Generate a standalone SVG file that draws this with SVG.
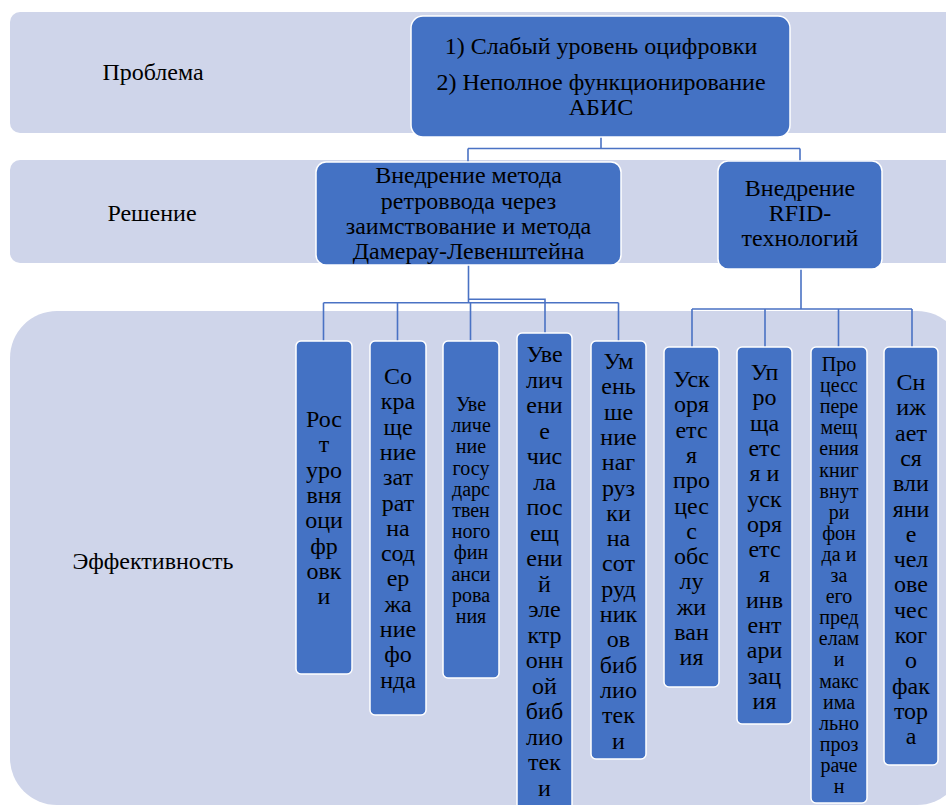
<svg xmlns="http://www.w3.org/2000/svg" width="946" height="805" viewBox="0 0 946 805">
<style>
.band{fill:#CFD5EA}
.box{fill:#4472C4;stroke:#FFFFFF;stroke-width:1.5}
.t{font-family:'Liberation Serif','Times New Roman',serif;fill:#000;text-anchor:middle}
.lg{font-size:24px}
.sm{font-size:20px}
.lbl{font-family:'Liberation Serif','Times New Roman',serif;font-size:24px;fill:#000;text-anchor:middle}
.conn{fill:none;stroke:#4A72C4;stroke-width:1.6}
</style>
<rect width="946" height="805" fill="#FFFFFF"/>
<g id="bands">
<rect class="band" x="10" y="12" width="960" height="121" rx="10"/>
<rect class="band" x="10" y="160" width="960" height="103" rx="10"/>
<rect class="band" x="10" y="311" width="954" height="494" rx="47"/>
</g>
<g id="labels">
<text class="lbl" x="153" y="80">Проблема</text>
<text class="lbl" x="152" y="221">Решение</text>
<text class="lbl" x="153" y="569">Эффективность</text>
</g>
<g id="connectors">
<path class="conn" d="M601,137 V148.5 M468,148.5 H800 M468,148.5 V162 M800,148.5 V161"/>
<path class="conn" d="M468.5,265 V302.7 M323.5,302.7 H618.5 M323.5,302.7 V341 M397.5,302.7 V341 M470.5,302.7 V341 M618.5,302.7 V341 M469,299.3 H545 V333"/>
<path class="conn" d="M801,269 V309 M692,309 H912 M692,309 V347 M765,309 V347 M838.5,309 V347 M912,309 V347"/>
</g>
<g id="problem">
<rect class="box" x="411" y="16" width="379" height="121" rx="12"/>
<text class="t lg"><tspan x="601" y="54">1) Слабый уровень оцифровки</tspan><tspan x="601" y="90">2) Неполное функционирование</tspan><tspan x="601" y="115">АБИС</tspan></text>
</g>
<g id="solution1">
<rect class="box" x="316" y="162" width="305" height="103" rx="10"/>
<text class="t lg"><tspan x="468.5" y="183">Внедрение метода</tspan><tspan x="468.5" y="208.5">ретроввода через</tspan><tspan x="468.5" y="234">заимствование и метода</tspan><tspan x="468.5" y="259">Дамерау-Левенштейна</tspan></text>
</g>
<g id="solution2">
<rect class="box" x="718" y="161" width="164" height="108" rx="10"/>
<text class="t lg"><tspan x="800" y="196">Внедрение</tspan><tspan x="800" y="221">RFID-</tspan><tspan x="800" y="246">технологий</tspan></text>
</g>
<g id="effect1">
<rect class="box" x="296" y="341" width="56" height="333" rx="5"/>
<text class="t lg"><tspan x="324" y="427">Рос</tspan><tspan x="324" dy="25.3">т</tspan><tspan x="324" dy="25.3">уро</tspan><tspan x="324" dy="25.3">вня</tspan><tspan x="324" dy="25.3">оци</tspan><tspan x="324" dy="25.3">фр</tspan><tspan x="324" dy="25.3">овк</tspan><tspan x="324" dy="25.3">и</tspan></text>
</g>
<g id="effect2">
<rect class="box" x="370" y="341" width="56" height="374" rx="5"/>
<text class="t lg"><tspan x="398" y="384">Со</tspan><tspan x="398" dy="25.3">кра</tspan><tspan x="398" dy="25.3">ще</tspan><tspan x="398" dy="25.3">ние</tspan><tspan x="398" dy="25.3">зат</tspan><tspan x="398" dy="25.3">рат</tspan><tspan x="398" dy="25.3">на</tspan><tspan x="398" dy="25.3">сод</tspan><tspan x="398" dy="25.3">ер</tspan><tspan x="398" dy="25.3">жа</tspan><tspan x="398" dy="25.3">ние</tspan><tspan x="398" dy="25.3">фо</tspan><tspan x="398" dy="25.3">нда</tspan></text>
</g>
<g id="effect3">
<rect class="box" x="443" y="341" width="56" height="337" rx="5"/>
<text class="t sm"><tspan x="471" y="411">Уве</tspan><tspan x="471" dy="21.2">личе</tspan><tspan x="471" dy="21.2">ние</tspan><tspan x="471" dy="21.2">госу</tspan><tspan x="471" dy="21.2">дарс</tspan><tspan x="471" dy="21.2">твен</tspan><tspan x="471" dy="21.2">ного</tspan><tspan x="471" dy="21.2">фин</tspan><tspan x="471" dy="21.2">анси</tspan><tspan x="471" dy="21.2">рова</tspan><tspan x="471" dy="21.2">ния</tspan></text>
</g>
<g id="effect4">
<rect class="box" x="517" y="333" width="55" height="480" rx="5"/>
<text class="t lg"><tspan x="544.5" y="362">Уве</tspan><tspan x="544.5" dy="25.5">лич</tspan><tspan x="544.5" dy="25.5">ени</tspan><tspan x="544.5" dy="25.5">е</tspan><tspan x="544.5" dy="25.5">чис</tspan><tspan x="544.5" dy="25.5">ла</tspan><tspan x="544.5" dy="25.5">пос</tspan><tspan x="544.5" dy="25.5">ещ</tspan><tspan x="544.5" dy="25.5">ени</tspan><tspan x="544.5" dy="25.5">й</tspan><tspan x="544.5" dy="25.5">эле</tspan><tspan x="544.5" dy="25.5">ктр</tspan><tspan x="544.5" dy="25.5">онн</tspan><tspan x="544.5" dy="25.5">ой</tspan><tspan x="544.5" dy="25.5">биб</tspan><tspan x="544.5" dy="25.5">лио</tspan><tspan x="544.5" dy="25.5">тек</tspan><tspan x="544.5" dy="25.5">и</tspan></text>
</g>
<g id="effect5">
<rect class="box" x="591" y="341" width="55" height="418" rx="5"/>
<text class="t lg"><tspan x="618.5" y="369">Ум</tspan><tspan x="618.5" dy="25.3">ень</tspan><tspan x="618.5" dy="25.3">ше</tspan><tspan x="618.5" dy="25.3">ние</tspan><tspan x="618.5" dy="25.3">наг</tspan><tspan x="618.5" dy="25.3">руз</tspan><tspan x="618.5" dy="25.3">ки</tspan><tspan x="618.5" dy="25.3">на</tspan><tspan x="618.5" dy="25.3">сот</tspan><tspan x="618.5" dy="25.3">руд</tspan><tspan x="618.5" dy="25.3">ник</tspan><tspan x="618.5" dy="25.3">ов</tspan><tspan x="618.5" dy="25.3">биб</tspan><tspan x="618.5" dy="25.3">лио</tspan><tspan x="618.5" dy="25.3">тек</tspan><tspan x="618.5" dy="25.3">и</tspan></text>
</g>
<g id="effect6">
<rect class="box" x="664" y="347" width="55" height="340" rx="5"/>
<text class="t lg"><tspan x="691.5" y="387">Уск</tspan><tspan x="691.5" dy="25.3">оря</tspan><tspan x="691.5" dy="25.3">етс</tspan><tspan x="691.5" dy="25.3">я</tspan><tspan x="691.5" dy="25.3">про</tspan><tspan x="691.5" dy="25.3">цес</tspan><tspan x="691.5" dy="25.3">с</tspan><tspan x="691.5" dy="25.3">обс</tspan><tspan x="691.5" dy="25.3">лу</tspan><tspan x="691.5" dy="25.3">жи</tspan><tspan x="691.5" dy="25.3">ван</tspan><tspan x="691.5" dy="25.3">ия</tspan></text>
</g>
<g id="effect7">
<rect class="box" x="737" y="347" width="55" height="377" rx="5"/>
<text class="t lg"><tspan x="764.5" y="380">Уп</tspan><tspan x="764.5" dy="25.3">ро</tspan><tspan x="764.5" dy="25.3">ща</tspan><tspan x="764.5" dy="25.3">етс</tspan><tspan x="764.5" dy="25.3">я и</tspan><tspan x="764.5" dy="25.3">уск</tspan><tspan x="764.5" dy="25.3">оря</tspan><tspan x="764.5" dy="25.3">етс</tspan><tspan x="764.5" dy="25.3">я</tspan><tspan x="764.5" dy="25.3">инв</tspan><tspan x="764.5" dy="25.3">ент</tspan><tspan x="764.5" dy="25.3">ари</tspan><tspan x="764.5" dy="25.3">зац</tspan><tspan x="764.5" dy="25.3">ия</tspan></text>
</g>
<g id="effect8">
<rect class="box" x="811" y="347" width="56" height="456" rx="5"/>
<text class="t sm"><tspan x="839" y="371">Про</tspan><tspan x="839" dy="21.1">цесс</tspan><tspan x="839" dy="21.1">пере</tspan><tspan x="839" dy="21.1">мещ</tspan><tspan x="839" dy="21.1">ения</tspan><tspan x="839" dy="21.1">книг</tspan><tspan x="839" dy="21.1">внут</tspan><tspan x="839" dy="21.1">ри</tspan><tspan x="839" dy="21.1">фон</tspan><tspan x="839" dy="21.1">да и</tspan><tspan x="839" dy="21.1">за</tspan><tspan x="839" dy="21.1">его</tspan><tspan x="839" dy="21.1">пред</tspan><tspan x="839" dy="21.1">елам</tspan><tspan x="839" dy="21.1">и</tspan><tspan x="839" dy="21.1">макс</tspan><tspan x="839" dy="21.1">има</tspan><tspan x="839" dy="21.1">льно</tspan><tspan x="839" dy="21.1">проз</tspan><tspan x="839" dy="21.1">раче</tspan><tspan x="839" dy="21.1">н</tspan></text>
</g>
<g id="effect9">
<rect class="box" x="884" y="347" width="54" height="418" rx="5"/>
<text class="t lg"><tspan x="911" y="390">Сн</tspan><tspan x="911" dy="25.3">иж</tspan><tspan x="911" dy="25.3">ает</tspan><tspan x="911" dy="25.3">ся</tspan><tspan x="911" dy="25.3">вли</tspan><tspan x="911" dy="25.3">яни</tspan><tspan x="911" dy="25.3">е</tspan><tspan x="911" dy="25.3">чел</tspan><tspan x="911" dy="25.3">ове</tspan><tspan x="911" dy="25.3">чес</tspan><tspan x="911" dy="25.3">ког</tspan><tspan x="911" dy="25.3">о</tspan><tspan x="911" dy="25.3">фак</tspan><tspan x="911" dy="25.3">тор</tspan><tspan x="911" dy="25.3">а</tspan></text>
</g>
</svg>
